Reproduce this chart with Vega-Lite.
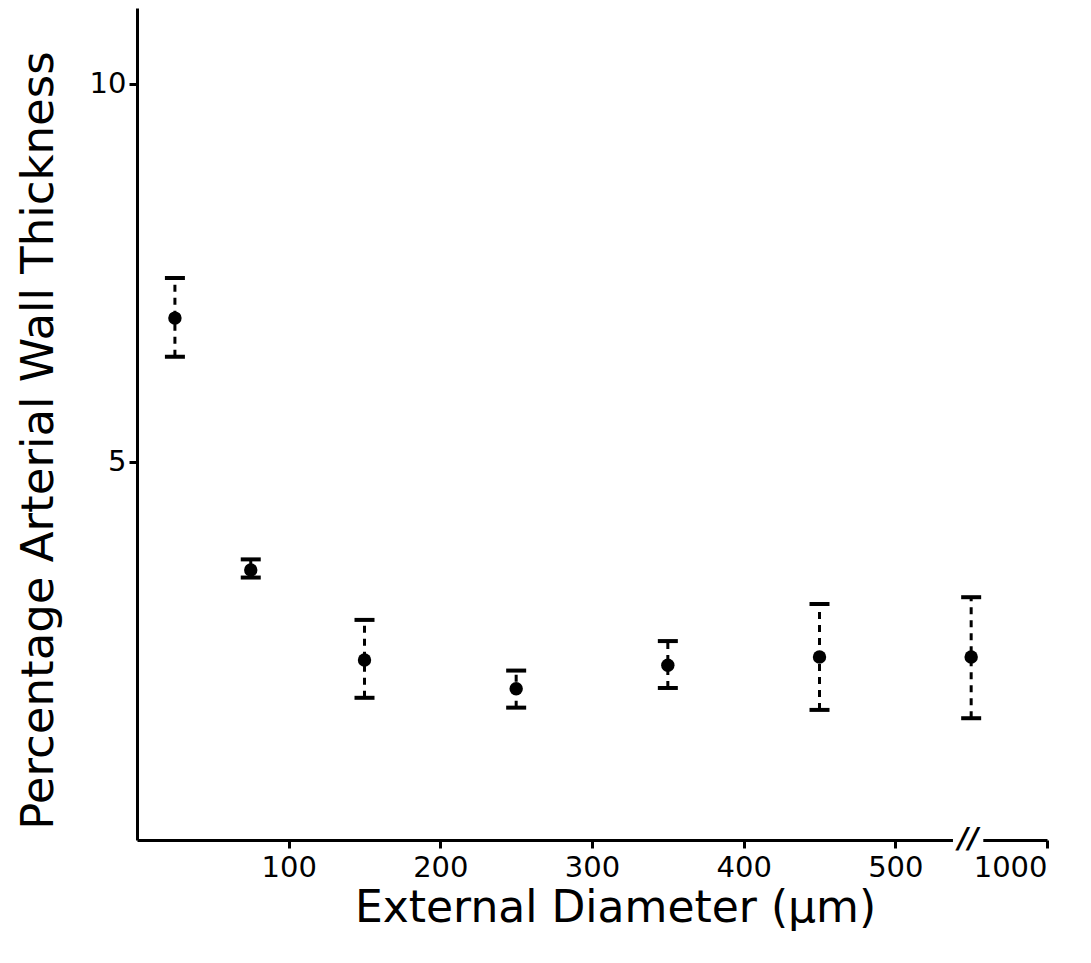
{
  "$schema": "https://vega.github.io/schema/vega-lite/v6.json",
  "width": 910,
  "height": 832,
  "autosize": {"type": "none"},
  "padding": {"left": 137, "top": 8, "right": 44, "bottom": 123},
  "background": "white",
  "config": {
    "view": {"stroke": null},
    "font": "DejaVu Sans"
  },
  "data": {
    "values": [
      {"d": 25, "mean": 6.9, "lo": 6.39, "hi": 7.43},
      {"d": 75, "mean": 3.57, "lo": 3.47, "hi": 3.71},
      {"d": 150, "mean": 2.38, "lo": 1.88, "hi": 2.91},
      {"d": 250, "mean": 2.0, "lo": 1.75, "hi": 2.24},
      {"d": 350, "mean": 2.31, "lo": 2.01, "hi": 2.63},
      {"d": 450, "mean": 2.42, "lo": 1.72, "hi": 3.12},
      {"d": 550, "mean": 2.42, "lo": 1.61, "hi": 3.21}
    ]
  },
  "encoding": {
    "x": {
      "field": "d",
      "type": "quantitative",
      "scale": {"domain": [0, 600], "nice": false, "zero": false},
      "axis": {
        "title": "External Diameter (μm)",
        "values": [100, 200, 300, 400, 500, 600],
        "labelExpr": "datum.value == 600 ? '1000' : datum.label",
        "grid": false,
        "domainColor": "black",
        "domainWidth": 3,
        "tickColor": "black",
        "tickWidth": 3,
        "tickSize": 8,
        "labelFontSize": 29,
        "labelColor": "black",
        "labelPadding": 5,
        "titleFontSize": 44,
        "titleFontWeight": "normal",
        "titleColor": "black",
        "titlePadding": 4,
        "titleX": 478
      }
    }
  },
  "layer": [
    {
      "mark": {"type": "rule", "strokeDash": [7, 6], "strokeWidth": 3, "color": "black"},
      "encoding": {
        "y": {
          "field": "lo",
          "type": "quantitative",
          "scale": {"domain": [0, 11], "nice": false, "zero": false},
          "axis": {
            "title": "Percentage Arterial Wall Thickness",
            "values": [5, 10],
            "format": "d",
            "grid": false,
            "domainColor": "black",
            "domainWidth": 3,
            "tickColor": "black",
            "tickWidth": 3,
            "tickSize": 8,
            "labelFontSize": 29,
            "labelColor": "black",
            "labelPadding": 3,
            "titleFontSize": 45,
            "titleFontWeight": "normal",
            "titleColor": "black",
            "titlePadding": 28,
            "titleY": 432
          }
        },
        "y2": {"field": "hi"}
      }
    },
    {
      "mark": {"type": "tick", "orient": "horizontal", "size": 20, "thickness": 4, "color": "black", "opacity": 1},
      "encoding": {"y": {"field": "lo", "type": "quantitative"}}
    },
    {
      "mark": {"type": "tick", "orient": "horizontal", "size": 20, "thickness": 4, "color": "black", "opacity": 1},
      "encoding": {"y": {"field": "hi", "type": "quantitative"}}
    },
    {
      "mark": {"type": "point", "filled": true, "shape": "circle", "size": 180, "color": "black", "opacity": 1},
      "encoding": {"y": {"field": "mean", "type": "quantitative"}}
    },
    {
      "data": {"values": [{"a": 538, "b": 558, "y": 0}]},
      "mark": {"type": "rule", "color": "white", "strokeWidth": 8, "clip": false},
      "encoding": {
        "x": {"field": "a", "type": "quantitative"},
        "x2": {"field": "b"},
        "y": {"field": "y", "type": "quantitative"}
      }
    },
    {
      "data": {"values": [{"a": 548, "y": 0, "t": "//"}]},
      "mark": {"type": "text", "fontSize": 28, "fontWeight": "bold", "fontStyle": "italic", "color": "black", "baseline": "middle", "align": "center", "clip": false},
      "encoding": {
        "x": {"field": "a", "type": "quantitative"},
        "y": {"field": "y", "type": "quantitative"},
        "text": {"field": "t"}
      }
    }
  ]
}
